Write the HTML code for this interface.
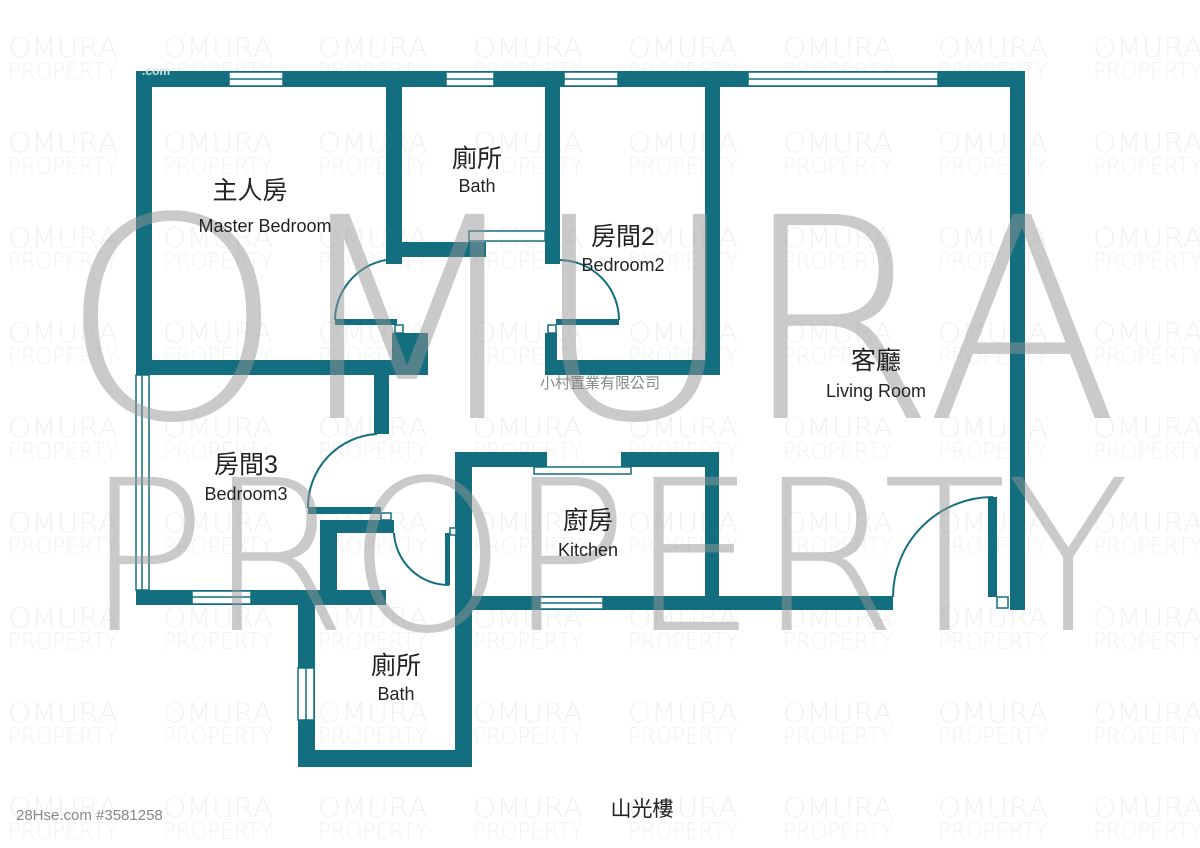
<!DOCTYPE html>
<html><head><meta charset="utf-8"><style>
html,body{margin:0;padding:0;background:#fff;width:1200px;height:848px;overflow:hidden}
svg{display:block}
.t{font-family:"Liberation Sans","Noto Sans CJK TC",sans-serif;fill:#222;text-anchor:middle}
.wl{font-family:"DejaVu Sans ExtraLight","DejaVu Sans","Liberation Sans",sans-serif;font-weight:200}
</style></head><body>
<svg width="1200" height="848" viewBox="0 0 1200 848" xmlns="http://www.w3.org/2000/svg">
<defs>
<pattern id="wm" x="8" y="0" width="155" height="95" patternUnits="userSpaceOnUse">
<text class="wl" x="0" y="57" font-size="28" fill="#f2f2f2" textLength="110" lengthAdjust="spacingAndGlyphs">OMURA</text>
<text class="wl" x="0" y="79" font-size="23" fill="#f2f2f2" textLength="110" lengthAdjust="spacingAndGlyphs">PROPERTY</text>
</pattern>
</defs>
<rect width="1200" height="848" fill="url(#wm)"/>
<g fill="#136f80">
<rect x="136" y="71" width="889" height="16"/>
<rect x="1010" y="71" width="15" height="539"/>
<rect x="136" y="71" width="16" height="304"/>
<rect x="136" y="360" width="292" height="15"/>
<rect x="392" y="333" width="36" height="42"/>
<rect x="386" y="71" width="16" height="193"/>
<rect x="386" y="242" width="100" height="15"/>
<rect x="545" y="71" width="15" height="193"/>
<rect x="705" y="71" width="15" height="304"/>
<rect x="545" y="333" width="12" height="42"/>
<rect x="545" y="360" width="175" height="15"/>
<rect x="556" y="319" width="63" height="6"/>
<rect x="335" y="319" width="62" height="6"/>
<rect x="374" y="375" width="15" height="59"/>
<rect x="136" y="590" width="250" height="15"/>
<rect x="308" y="507" width="73" height="7"/>
<rect x="320" y="520" width="17" height="70"/>
<rect x="320" y="520" width="74" height="13"/>
<rect x="298" y="605" width="17" height="162"/>
<rect x="298" y="750" width="172" height="17"/>
<rect x="455" y="452" width="17" height="315"/>
<rect x="445" y="533" width="5" height="52"/>
<rect x="455" y="452" width="92" height="15"/>
<rect x="621" y="452" width="98" height="15"/>
<rect x="705" y="452" width="14" height="158"/>
<rect x="472" y="596" width="421" height="14"/>
<rect x="988" y="497" width="9" height="100"/>
</g>
<g fill="#fff" stroke="#136f80" stroke-width="1.5">
<rect x="229" y="72" width="54" height="14"/><line x1="229" y1="79" x2="283" y2="79"/>
<rect x="446" y="72" width="48" height="14"/><line x1="446" y1="79" x2="494" y2="79"/>
<rect x="564" y="72" width="54" height="14"/><line x1="564" y1="79" x2="618" y2="79"/>
<rect x="748" y="72" width="190" height="14"/><line x1="748" y1="79" x2="938" y2="79"/>
<rect x="469" y="231" width="76" height="10"/>
<rect x="136" y="375" width="13" height="215"/><line x1="142" y1="375" x2="142" y2="590"/>
<rect x="192" y="591" width="59" height="13"/><line x1="192" y1="597" x2="251" y2="597"/>
<rect x="298" y="668" width="16" height="52"/><line x1="306" y1="668" x2="306" y2="720"/>
<rect x="534" y="467" width="97" height="7"/>
<rect x="540" y="597" width="63" height="12"/><line x1="540" y1="603" x2="603" y2="603"/>
<rect x="395" y="325" width="8" height="8"/>
<rect x="548" y="325" width="8" height="8"/>
<rect x="381" y="513" width="10" height="7"/>
<rect x="450" y="528" width="6" height="7"/>
<rect x="997" y="597" width="11" height="11"/>
</g>
<g fill="none" stroke="#136f80" stroke-width="2">
<path d="M386 260 A62 62 0 0 0 335 320"/>
<path d="M560 260 A60 60 0 0 1 619 320"/>
<path d="M377 434 A73 73 0 0 0 308 508"/>
<path d="M394 533 A55 55 0 0 0 449 585"/>
<path d="M893 597 A100 100 0 0 1 993 497"/>
</g>
<text x="142" y="75" font-family="Liberation Sans,sans-serif" font-size="12" font-weight="bold" fill="#cfe3e6">.com</text>
<g class="wl" fill="rgba(150,150,150,0.5)">
<text x="60" y="418" font-size="280" textLength="1060" lengthAdjust="spacingAndGlyphs">OMURA</text>
<text x="85" y="630" font-size="210" textLength="1045" lengthAdjust="spacingAndGlyphs">PROPERTY</text>
</g>
<text class="t" x="250" y="199" font-size="25">主人房</text>
<text class="t" x="265" y="232" font-size="18">Master Bedroom</text>
<text class="t" x="477" y="167" font-size="25">廁所</text>
<text class="t" x="477" y="192" font-size="18">Bath</text>
<text class="t" x="623" y="245" font-size="25">房間2</text>
<text class="t" x="623" y="271" font-size="18">Bedroom2</text>
<text class="t" x="876" y="369" font-size="25">客廳</text>
<text class="t" x="876" y="397" font-size="18">Living Room</text>
<text class="t" x="246" y="473" font-size="25">房間3</text>
<text class="t" x="246" y="500" font-size="18">Bedroom3</text>
<text class="t" x="588" y="529" font-size="25">廚房</text>
<text class="t" x="588" y="556" font-size="18">Kitchen</text>
<text class="t" x="396" y="674" font-size="25">廁所</text>
<text class="t" x="396" y="700" font-size="18">Bath</text>
<text class="t" x="600" y="388" font-size="15" style="fill:#888">小村置業有限公司</text>
<text class="t" x="642" y="816" font-size="21">山光樓</text>
<text x="16" y="820" font-family="Liberation Sans,sans-serif" font-size="15" fill="#888">28Hse.com #3581258</text>
</svg>
</body></html>
